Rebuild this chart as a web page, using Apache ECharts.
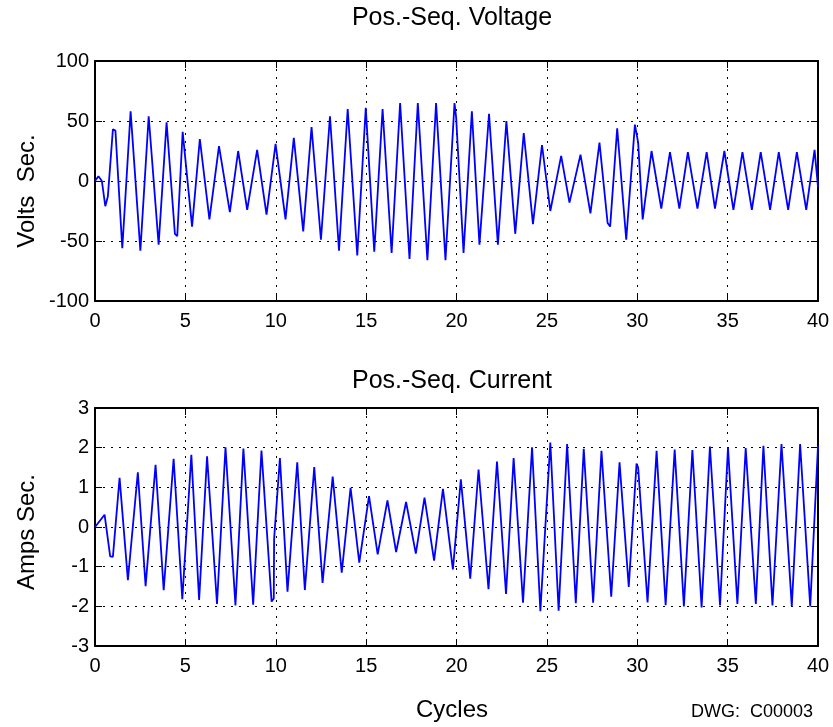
<!DOCTYPE html>
<html>
<head>
<meta charset="utf-8">
<script src="https://cdn.jsdelivr.net/npm/echarts@6/dist/echarts.min.js"></script>
<style>
html,body{margin:0;padding:0;background:#fff;}
#chart{width:833px;height:727px;}
</style>
</head>
<body>
<div id="chart"></div>
<script>
// Pos.-Seq. Voltage: cycle positions and values of the drawn samples
const voltX = [0, 0.19, 0.38, 0.57, 0.71, 0.99, 1.13, 1.51, 1.97, 2.51,
  2.97, 3.52, 3.96, 4.42, 4.55, 4.85, 4.95, 5.37, 5.47, 5.80, 5.90, 6.33, 6.43, 6.86, 7.46,
  7.92, 8.42, 8.97, 9.49, 9.99, 10.54, 11.00, 11.52, 11.98, 12.50,
  13.00, 13.50, 13.98, 14.51, 14.98, 15.45, 15.53, 15.91, 15.99, 16.41, 16.49, 16.88, 17.40,
  17.86, 18.39, 18.87, 19.39, 19.89, 19.98, 20.39, 20.85, 21.27, 21.35, 21.80,
  22.29, 22.76, 23.25, 23.72, 24.23, 24.73, 25.19, 25.79, 26.25, 26.35, 26.86,
  27.41, 27.91, 28.36, 28.50, 28.89, 29.39, 29.87, 30.05, 30.30, 30.37, 30.79, 31.33,
  31.81, 32.33, 32.80, 33.33, 33.84, 34.30, 34.82, 35.32, 35.82, 36.34,
  36.83, 37.35, 37.83, 38.35, 38.83, 39.35, 39.81, 40.00];
const voltY = [0, 4, 0, -21, -13, 43, 42, -56, 58, -58,
  54, -53, 49, -44, -46, 41, 41, -38, -38, 35, 35, -32, -32, 29, -26,
  25, -24, 26, -28, 31, -32, 36, -42, 45, -49,
  54, -58, 60, -62, 61, -59, -60, 60, 59, -60, -61, 65, -65,
  65, -66, 65, -66, 65, 53, -60, 58, -53, -54, 56,
  -53, 50, -44, 40, -36, 30, -25, 21, -18, -18, 22,
  -27, 32, -35, -38, 44, -49, 47, 32, -32, -31, 25, -23,
  24, -23, 24, -23, 24, -23, 25, -24, 24, -24,
  24, -24, 24, -24, 24, -24, 26, -5];

// Pos.-Seq. Current
const currX = [0, 0.07, 0.53, 0.84, 0.99, 1.36, 1.82, 2.37, 2.80, 3.35,
  3.80, 4.35, 4.83, 5.33, 5.76, 6.20, 6.30, 6.75, 7.22, 7.77, 8.21,
  8.75, 9.21, 9.77, 9.89, 9.91, 10.23, 10.65, 10.73, 11.19, 11.61, 12.13,
  12.59, 13.15, 13.65, 14.14, 14.62, 15.16, 15.64, 16.18, 16.66, 17.21,
  17.75, 18.23, 18.76, 19.25, 19.80, 20.24, 20.76, 21.22, 21.77, 22.24,
  22.74, 23.16, 23.68, 24.18, 24.64, 25.19, 25.65, 26.12, 26.60, 26.68, 27.04,
  27.56, 28.02, 28.56, 29.02, 29.53, 29.96, 30.05, 30.57, 31.07, 31.57,
  32.07, 32.58, 33.05, 33.56, 34.02, 34.58, 35.02, 35.54, 36.00, 36.56,
  36.98, 37.48, 37.98, 38.55, 39.01, 39.57, 40.00];
const currY = [0, 0, 0.31, -0.74, -0.75, 1.24, -1.34, 1.38, -1.49, 1.57,
  -1.59, 1.72, -1.82, 1.82, -1.84, 1.78, 1.78, -1.94, 2.01, -1.98, 1.98,
  -1.96, 1.93, -1.88, -1.80, -0.30, 1.74, -1.63, -1.63, 1.63, -1.59, 1.51,
  -1.41, 1.27, -1.15, 0.99, -0.90, 0.78, -0.69, 0.67, -0.63, 0.63,
  -0.67, 0.74, -0.85, 0.96, -1.07, 1.20, -1.30, 1.45, -1.57, 1.65,
  -1.69, 1.74, -1.91, 2.01, -2.12, 2.13, -2.11, 2.09, -1.92, -1.94, 1.97,
  -1.91, 1.92, -1.76, 1.63, -1.51, 1.60, 1.50, -1.90, 1.92, -1.97,
  1.95, -2.00, 1.94, -2.03, 2.03, -1.98, 2.00, -1.94, 1.99, -1.94,
  2.05, -1.98, 2.09, -2.00, 2.09, -2.00, 2.05];

const titles = ['Pos.-Seq. Voltage', 'Pos.-Seq. Current'];
const yNames = ['Volts  Sec.', 'Amps Sec.'];
const xName = 'Cycles';
const dwgNote = 'DWG:  C00003';
const xRange = [0, 40, 5];
const voltRange = [-100, 100, 50];
const currRange = [-3, 3, 1];

const FONT = '"Liberation Sans", Arial, Helvetica, sans-serif';
const gridLine = {show: true, lineStyle: {color: '#000', type: [2, 6], width: 1}};
const frame = {show: true, lineStyle: {color: '#000', width: 2}};
const tickIn = {show: true, inside: true, length: 7, lineStyle: {color: '#000', width: 1}};
const lbl = {color: '#000', fontSize: 20, fontFamily: FONT};

function xAx(gi, r) {
  return [
    {type: 'value', gridIndex: gi, position: 'bottom', min: r[0], max: r[1], interval: r[2],
     axisLine: Object.assign({onZero: false}, frame), axisTick: tickIn, splitLine: gridLine,
     axisLabel: Object.assign({margin: 10}, lbl)},
    {type: 'value', gridIndex: gi, position: 'top', min: r[0], max: r[1], interval: r[2],
     axisLine: Object.assign({onZero: false}, frame), axisTick: tickIn, splitLine: {show: false},
     axisLabel: {show: false}}
  ];
}
function yAx(gi, r) {
  return [
    {type: 'value', gridIndex: gi, position: 'left', min: r[0], max: r[1], interval: r[2],
     axisLine: Object.assign({onZero: false}, frame), axisTick: tickIn, splitLine: gridLine,
     axisLabel: Object.assign({margin: 6}, lbl)},
    {type: 'value', gridIndex: gi, position: 'right', min: r[0], max: r[1], interval: r[2],
     axisLine: Object.assign({onZero: false}, frame), axisTick: tickIn, splitLine: {show: false},
     axisLabel: {show: false}}
  ];
}

function txt(s, x, y, size, align, rot) {
  return {type: 'text', x: x, y: y, rotation: rot || 0,
    style: {text: s, fill: '#000', font: size + 'px ' + FONT, align: align || 'center', verticalAlign: 'middle'}};
}

const chart = echarts.init(document.getElementById('chart'), null, {renderer: 'canvas'});
chart.setOption({
  backgroundColor: '#fff',
  animation: false,
  grid: [
    {left: 95, top: 61, width: 723, height: 240},
    {left: 95, top: 408, width: 723, height: 238}
  ],
  xAxis: [].concat(xAx(0, xRange), xAx(1, xRange)),
  yAxis: [].concat(yAx(0, voltRange), yAx(1, currRange)),
  series: [
    {type: 'line', xAxisIndex: 0, yAxisIndex: 0, showSymbol: false, symbol: 'none',
     lineStyle: {color: '#0000ff', width: 1.8}, data: voltX.map((x, i) => [x, voltY[i]])},
    {type: 'line', xAxisIndex: 2, yAxisIndex: 2, showSymbol: false, symbol: 'none',
     lineStyle: {color: '#0000ff', width: 1.8}, data: currX.map((x, i) => [x, currY[i]])}
  ],
  graphic: [
    txt(titles[0], 452, 18, 25),
    txt(titles[1], 452, 381, 25),
    txt(yNames[0], 27, 191, 24, 'center', Math.PI / 2),
    txt(yNames[1], 27, 532, 24, 'center', Math.PI / 2),
    txt(xName, 452, 710, 24),
    txt(dwgNote, 813, 712, 18, 'right')
  ]
});
</script>
</body>
</html>
